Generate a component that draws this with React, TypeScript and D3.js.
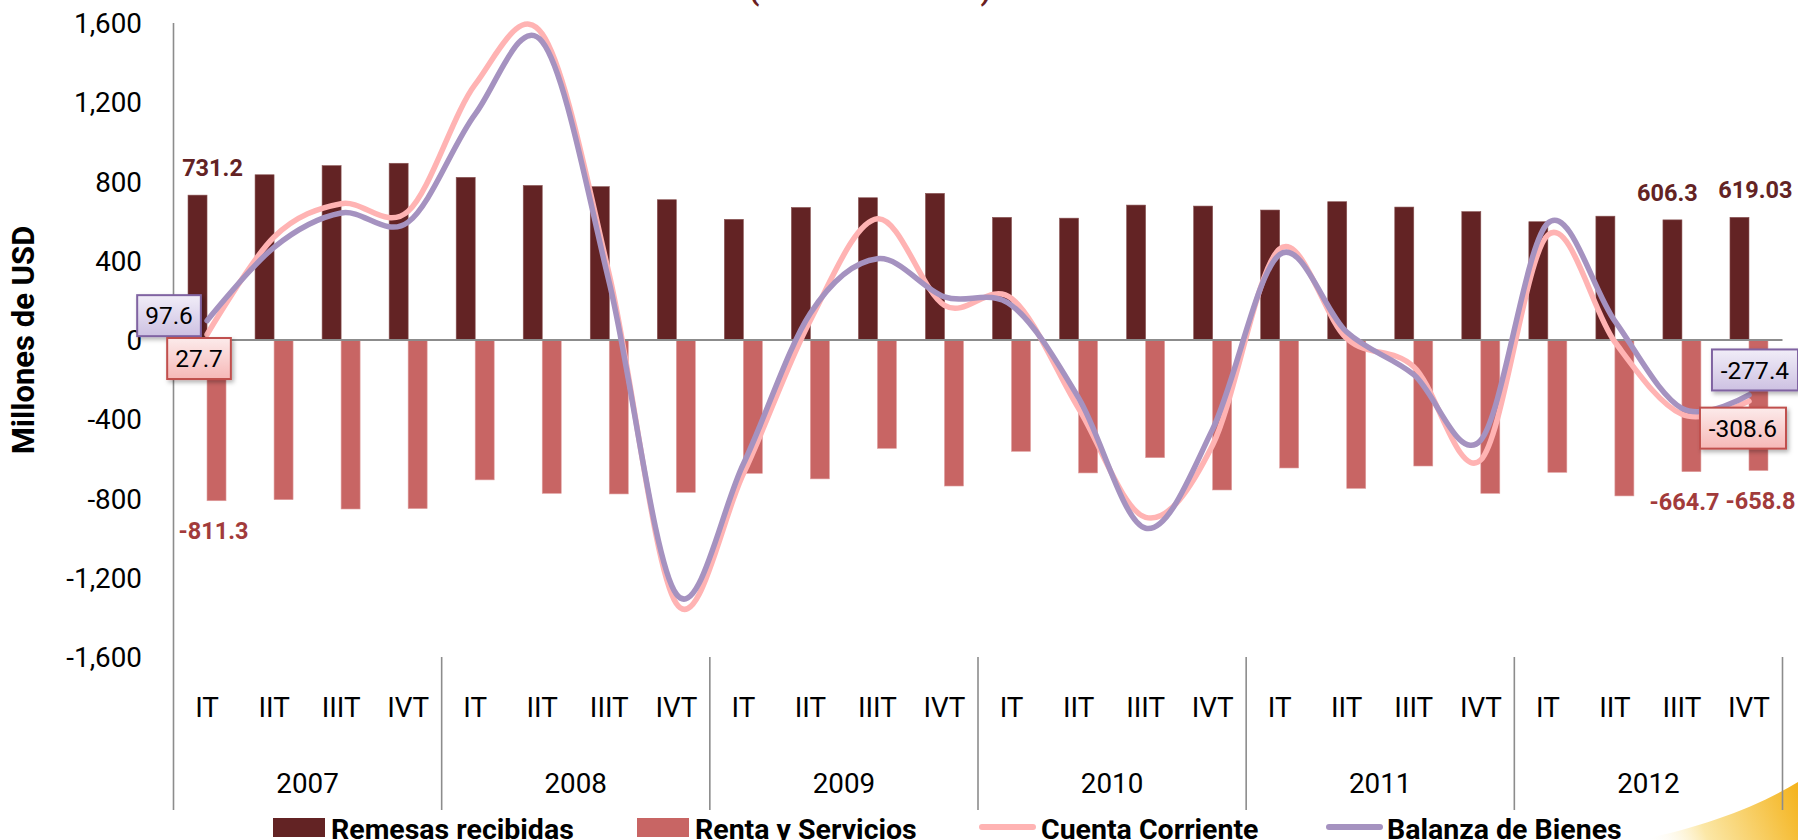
import React from 'react';
import * as d3 from 'd3';

// categories
const quarters = ['IT', 'IIT', 'IIIT', 'IVT'];
const years = ['2007', '2008', '2009', '2010', '2011', '2012'];

// series (millones de USD)
const remesas = [731.2, 834, 880, 892, 821, 780, 774, 708, 609, 669, 718, 740, 619, 615, 681, 676, 656, 698, 671, 648, 597, 625, 606.3, 619.03];
const renta = [-811.3, -806, -853, -851, -706, -774, -777, -769, -673, -701, -547, -737, -562, -671, -594, -757, -646, -749, -636, -774, -668, -787, -664.7, -658.8];
const cuentaCorriente = [27.7, 520, 688, 650, 1290, 1545, 330, -1330, -676, 100, 612, 175, 210, -345, -895, -530, 460, 8, -135, -605, 530, -10, -375, -308.6];
const balanzaBienes = [97.6, 468, 641, 595, 1140, 1505, 290, -1282, -626, 135, 410, 218, 175, -292, -950, -450, 432, 40, -175, -505, 590, 95, -345, -277.4];

const yTicks = [-1600, -1200, -800, -400, 0, 400, 800, 1200, 1600];

const W = 1798;
const H = 840;
const FONT = "Roboto, 'Open Sans', sans-serif";
const C_REM = '#632324';
const C_REN = '#C86564';
const C_CC = '#FFB3B3';
const C_BB = '#A592C0';
const C_AXIS = '#8C8C8C';

const categories = years.flatMap(yr => quarters.map(q => `${q} ${yr}`));

const x = d3.scaleBand<string>().domain(categories).range([173.5, 1782.5]);
const y = d3.scaleLinear().domain([-1600, 1600]).range([657, 23]);
const cx = (i: number) => (x(categories[i]) as number) + x.bandwidth() / 2;
const barW = 19;

const fmt = d3.formatLocale({ decimal: '.', thousands: ',', grouping: [3], currency: ['$', ''], minus: '-' }).format(',');

const line = d3.line<number>()
  .x((_, i) => cx(i))
  .y(d => y(d))
  .curve(d3.curveCardinal.tension(0));

// rough text width for the boxed labels (Roboto digits)
const textW = (s: string, size: number) =>
  s.split('').reduce((a, c) => a + (c === '.' ? 0.26 : c === '-' ? 0.35 : 0.562), 0) * size;

const App: React.FC = () => {
  const yearW = x.bandwidth() * quarters.length;
  const left = x.range()[0];

  const boxes = [
    { v: balanzaBienes[0], i: 0, dx: -38, dy: -5, fill: 'url(#gPur)', stroke: '#8064A2' },
    { v: cuentaCorriente[0], i: 0, dx: -8, dy: 24, fill: 'url(#gPink)', stroke: '#C0504D' },
    { v: balanzaBienes[23], i: 23, dx: 6, dy: -25, fill: 'url(#gPur)', stroke: '#8064A2' },
    { v: cuentaCorriente[23], i: 23, dx: -6, dy: 27, fill: 'url(#gPink)', stroke: '#C0504D' },
  ];

  // label centre = bar centre + dx
  const barLabels = [
    { v: remesas[0], i: 0, dx: 15, top: true },
    { v: remesas[22], i: 22, dx: -5, top: true },
    { v: remesas[23], i: 23, dx: 16, top: true },
    { v: renta[0], i: 0, dx: -3, top: false },
    { v: renta[22], i: 22, dx: -7, top: false },
    { v: renta[23], i: 23, dx: 2, top: false },
  ];

  return (
    <svg width={W} height={H} style={{ position: 'fixed', left: 0, top: 0, background: '#fff' }} fontFamily={FONT}>
      <defs>
        <linearGradient id="gPur" x1="0" y1="0" x2="0" y2="1">
          <stop offset="0" stopColor="#F1EDF8" />
          <stop offset="1" stopColor="#CDC1E2" />
        </linearGradient>
        <linearGradient id="gPink" x1="0" y1="0" x2="0" y2="1">
          <stop offset="0" stopColor="#FCEBEB" />
          <stop offset="1" stopColor="#F6B8B7" />
        </linearGradient>
        <linearGradient id="gSun" x1="1650" y1="845" x2="1798" y2="785" gradientUnits="userSpaceOnUse">
          <stop offset="0" stopColor="#FFFFFF" stopOpacity="0" />
          <stop offset="0.35" stopColor="#FBE7A6" />
          <stop offset="1" stopColor="#F4B31C" />
        </linearGradient>
        <filter id="shadow" x="-20%" y="-20%" width="150%" height="160%">
          <feDropShadow dx="2" dy="2.5" stdDeviation="2" floodColor="#000" floodOpacity="0.3" />
        </filter>
      </defs>

      <rect width={W} height={H} fill="#fff" />
      <path d="M1640,840 C1705,826 1755,808 1798,782 L1798,840 Z" fill="url(#gSun)" />

      {/* title, cut off by the top edge as in the source slide */}
      <text x={870} y={-0.5} textAnchor="middle" fontSize={30} fontWeight="bold" fill="#6B1E22">(Millones de USD)</text>

      {/* bars */}
      {remesas.map((v, i) => (
        <rect key={`rem${i}`} x={cx(i) - barW} y={y(v)} width={barW} height={y(0) - y(v)} fill={C_REM} stroke="#8A5555" strokeWidth={0.6} />
      ))}
      {renta.map((v, i) => (
        <rect key={`ren${i}`} x={cx(i)} y={y(0)} width={barW} height={y(v) - y(0)} fill={C_REN} stroke="#E0A0A0" strokeWidth={0.6} />
      ))}

      {/* axes */}
      <line x1={left} x2={x.range()[1]} y1={y(0)} y2={y(0)} stroke={C_AXIS} strokeWidth={2} />
      <line x1={left} x2={left} y1={y(1600)} y2={810} stroke={C_AXIS} strokeWidth={1.6} />
      {years.map((yr, k) => (
        <line key={`sep${yr}`} x1={left + (k + 1) * yearW} x2={left + (k + 1) * yearW} y1={657} y2={810} stroke={C_AXIS} strokeWidth={1.6} />
      ))}

      {yTicks.map(t => (
        <text key={`yt${t}`} x={142} y={y(t)} dy="0.36em" textAnchor="end" fontSize={27.8} fill="#000">{fmt(t)}</text>
      ))}
      {categories.map((c, i) => (
        <text key={`q${c}`} x={cx(i)} y={717} textAnchor="middle" fontSize={27.8} fill="#000">{quarters[i % 4]}</text>
      ))}
      {years.map((yr, k) => (
        <text key={`yr${yr}`} x={left + (k + 0.5) * yearW} y={793} textAnchor="middle" fontSize={27.8} fill="#000">{yr}</text>
      ))}

      <text transform={`translate(34,${(y(1600) + y(-1600)) / 2}) rotate(-90)`} textAnchor="middle" fontSize={31} fontWeight="bold" fill="#000">Millones de USD</text>

      {/* lines */}
      <path d={line(cuentaCorriente) as string} fill="none" stroke={C_CC} strokeWidth={5.5} strokeLinecap="round" />
      <path d={line(balanzaBienes) as string} fill="none" stroke={C_BB} strokeWidth={5.5} strokeLinecap="round" />

      {/* bar value labels */}
      {barLabels.map((b, k) => (
        <text key={`bl${k}`}
          x={(b.top ? cx(b.i) - barW / 2 : cx(b.i) + barW / 2) + b.dx}
          y={b.top ? y(b.v) - 19 : y(b.v) + 38}
          textAnchor="middle" fontSize={23.5} fontWeight="bold" fill={b.top ? C_REM : '#A23B3B'}>
          {String(b.v)}
        </text>
      ))}

      {/* boxed line labels */}
      {boxes.map((b, k) => {
        const s = String(b.v);
        const w = textW(s, 24.5) + 16;
        const mx = cx(b.i) + b.dx;
        const my = y(b.v) + b.dy;
        return (
          <g key={`bx${k}`}>
            <rect x={mx - w / 2} y={my - 20.5} width={w} height={41} fill={b.fill} stroke={b.stroke} strokeWidth={2} filter="url(#shadow)" />
            <text x={mx} y={my + 8.7} textAnchor="middle" fontSize={24.5} fill="#000">{s}</text>
          </g>
        );
      })}

      {/* legend */}
      <g fontSize={28.5} fontWeight="bold" fill="#000">
        <rect x={273} y={818} width={52} height={19} fill={C_REM} />
        <text x={331} y={839}>Remesas recibidas</text>
        <rect x={637} y={818} width={52} height={19} fill={C_REN} />
        <text x={695} y={839}>Renta y Servicios</text>
        <line x1={982} x2={1033} y1={827} y2={827} stroke={C_CC} strokeWidth={6} strokeLinecap="round" />
        <text x={1041} y={839}>Cuenta Corriente</text>
        <line x1={1329} x2={1380} y1={827} y2={827} stroke={C_BB} strokeWidth={6} strokeLinecap="round" />
        <text x={1387} y={839}>Balanza de Bienes</text>
      </g>
    </svg>
  );
};

export default App;
